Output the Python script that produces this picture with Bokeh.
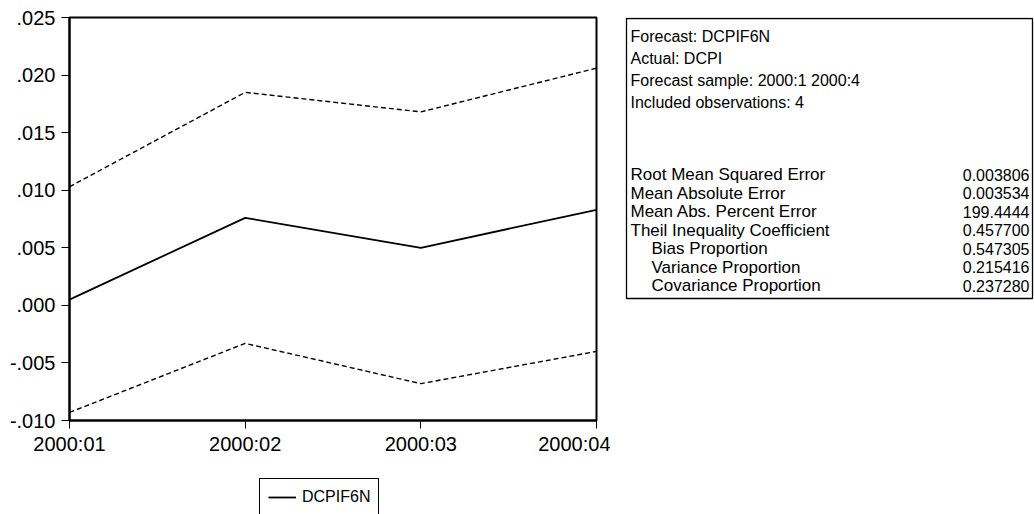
from bokeh.plotting import figure
from bokeh.models import Range1d, FixedTicker, Legend, LegendItem, ColumnDataSource
from bokeh.layouts import row, column
from bokeh.embed import file_html
from bokeh.resources import INLINE
from bokeh.core.properties import value

# ---- data ----
periods = ["2000:01", "2000:02", "2000:03", "2000:04"]
forecast = [0.0005, 0.0076, 0.0050, 0.0083]
upper_band = [0.0103, 0.0185, 0.0168, 0.0206]
lower_band = [-0.0093, -0.0033, -0.0068, -0.0040]
y_ticks = [-0.010, -0.005, 0.000, 0.005, 0.010, 0.015, 0.020, 0.025]
y_tick_labels = ["-.010", "-.005", ".000", ".005", ".010", ".015", ".020", ".025"]
series_name = "DCPIF6N"

header_lines = ["Forecast: DCPIF6N", "Actual: DCPI",
                "Forecast sample: 2000:1 2000:4", "Included observations: 4"]
stat_names = ["Root Mean Squared Error", "Mean Absolute Error",
              "Mean Abs. Percent Error", "Theil Inequality Coefficient",
              "Bias Proportion", "Variance Proportion", "Covariance Proportion"]
stat_values = ["0.003806", "0.003534", "199.4444", "0.457700",
               "0.547305", "0.215416", "0.237280"]
stat_indent = [0, 0, 0, 0, 1, 1, 1]

FONT = "Liberation Sans"
TOP = 17
H1 = 478
BOTTOM = H1 - 420

def clean(fig):
    fig.xgrid.visible = False
    fig.ygrid.visible = False
    fig.background_fill_color = "white"
    fig.border_fill_color = "white"

# ---- chart ----
xs = list(range(len(periods)))
p = figure(width=610, height=H1, output_backend="svg", toolbar_location=None,
           x_range=Range1d(0, len(periods) - 1), y_range=Range1d(y_ticks[0], y_ticks[-1]),
           min_border_left=69, min_border_right=14, min_border_top=TOP,
           min_border_bottom=BOTTOM)
clean(p)
p.outline_line_color = "black"
p.outline_line_width = 2

src = ColumnDataSource(dict(x=xs, f=forecast, u=upper_band, l=lower_band))
p.line("x", "f", source=src, line_color="black", line_width=1.8)
p.line("x", "u", source=src, line_color="black", line_width=1.4, line_dash="5 3")
p.line("x", "l", source=src, line_color="black", line_width=1.4, line_dash="5 3")

p.xaxis.ticker = FixedTicker(ticks=xs)
p.xaxis.major_label_overrides = {i: lab for i, lab in zip(xs, periods)}
p.yaxis.ticker = FixedTicker(ticks=y_ticks)
p.yaxis.major_label_overrides = {t: lab for t, lab in zip(y_ticks, y_tick_labels)}
for ax in (p.xaxis, p.yaxis):
    ax.axis_line_color = "black"
    ax.axis_line_width = 2
    ax.major_tick_line_color = "black"
    ax.major_tick_line_width = 1
    ax.major_tick_in = 0
    ax.major_tick_out = 8
    ax.minor_tick_line_color = None
    ax.major_label_text_font = FONT
    ax.major_label_text_font_size = "20px"
    ax.major_label_text_color = "black"
p.yaxis.major_label_standoff = 6
p.xaxis.major_label_standoff = 4

# ---- statistics box (pixel-like data space) ----
q = figure(width=424, height=H1, output_backend="svg", toolbar_location=None,
           x_range=Range1d(0, 424), y_range=Range1d(H1 - BOTTOM, TOP),
           x_axis_location=None, y_axis_location=None,
           min_border_left=0, min_border_right=0,
           min_border_top=TOP, min_border_bottom=BOTTOM)
clean(q)
q.outline_line_color = None
q.quad(left=16, right=422, top=TOP + 1, bottom=298, fill_color=None,
       line_color="black", line_width=1.3)

hy = [36 + 22 * i for i in range(len(header_lines))]
q.text(x=[20] * len(header_lines), y=hy, text=header_lines,
       text_font=value(FONT), text_font_size="16px", text_color="black",
       text_baseline="middle", text_align="left")
sy = [174 + 18.5 * i for i in range(len(stat_names))]
sx = [20 + 21 * k for k in stat_indent]
q.text(x=sx, y=sy, text=stat_names,
       text_font=value(FONT), text_font_size="17px", text_color="black",
       text_baseline="middle", text_align="left")
q.text(x=[419] * len(stat_values), y=sy, text=stat_values,
       text_font=value(FONT), text_font_size="16px", text_color="black",
       text_baseline="middle", text_align="right")

# ---- legend strip under the chart ----
lg = figure(width=610, height=514 - H1, output_backend="svg", toolbar_location=None,
            x_range=Range1d(0, 1), y_range=Range1d(0, 1),
            x_axis_location=None, y_axis_location=None,
            min_border_left=69, min_border_right=14, min_border_top=0, min_border_bottom=0)
clean(lg)
lg.outline_line_color = None
key = lg.line(x=[-5, -4], y=[-5, -4], line_color="black", line_width=1.8)
legend = Legend(items=[LegendItem(label=series_name, renderers=[key])],
                location=(190, -2), orientation="vertical",
                border_line_color="black", border_line_width=1.2, border_line_alpha=1.0,
                background_fill_color="white", padding=8, margin=0,
                glyph_width=28, glyph_height=20, label_standoff=6,
                label_text_font=FONT, label_text_font_size="16px",
                label_text_color="black", label_height=20)
lg.add_layout(legend, "center")

layout = column(row(p, q, spacing=0), lg, spacing=0)
open("out.html", "w").write(file_html(layout, INLINE))
